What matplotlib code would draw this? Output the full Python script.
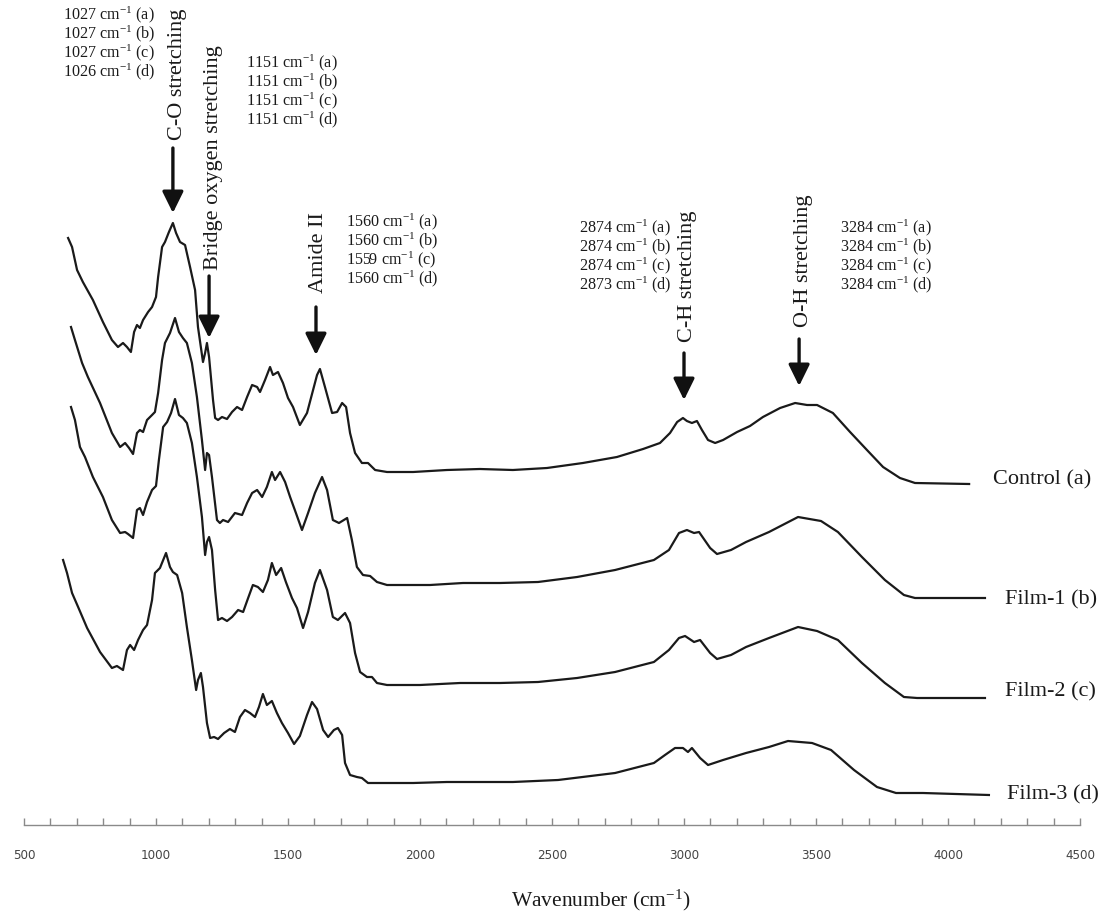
import matplotlib
matplotlib.use("Agg")
import matplotlib.pyplot as plt
from matplotlib.ticker import MultipleLocator

plt.rcParams['font.family'] = ['Liberation Serif', 'DejaVu Serif']
plt.rcParams['mathtext.fontset'] = 'custom'
plt.rcParams['mathtext.rm'] = 'Liberation Serif'
plt.rcParams['mathtext.it'] = 'Liberation Serif:italic'

# wavenumber (cm-1) / stacked intensity (a.u.)
control_x = [667, 682, 701, 723, 761, 799, 833, 856, 875, 890, 905, 917, 928, 939, 951, 970, 985, 1000,
             1008, 1023, 1034, 1049, 1064, 1076, 1091, 1110, 1129, 1148, 1159, 1178, 1186, 1193, 1201,
             1216, 1224, 1235, 1250, 1269, 1288, 1307, 1326, 1345, 1364, 1383, 1394, 1413, 1432, 1443,
             1462, 1481, 1500, 1519, 1545, 1572, 1595, 1610, 1621, 1640, 1667, 1686, 1705, 1720, 1735,
             1754, 1780, 1803, 1830, 1875, 1974, 2102, 2227, 2352, 2481, 2617, 2746, 2845, 2909, 2947,
             2974, 2996, 3011, 3030, 3049, 3068, 3091, 3118, 3148, 3201, 3250, 3299, 3364, 3421, 3466,
             3504, 3564, 3629, 3693, 3754, 3818, 3875, 4080]
control_y = [6.12, 6.03, 5.80, 5.68, 5.50, 5.28, 5.10, 5.03, 5.07, 5.03, 4.98, 5.18, 5.25, 5.22, 5.30, 5.38,
             5.43, 5.53, 5.73, 6.03, 6.08, 6.18, 6.27, 6.17, 6.08, 6.05, 5.83, 5.60, 5.23, 4.88, 4.97, 5.07,
             4.93, 4.50, 4.32, 4.30, 4.33, 4.31, 4.38, 4.43, 4.40, 4.53, 4.65, 4.63, 4.58, 4.70, 4.83, 4.75,
             4.78, 4.67, 4.52, 4.43, 4.25, 4.37, 4.60, 4.75, 4.81, 4.63, 4.37, 4.38, 4.47, 4.43, 4.17, 3.97,
             3.87, 3.87, 3.80, 3.78, 3.78, 3.80, 3.81, 3.80, 3.82, 3.87, 3.93, 4.01, 4.07, 4.17, 4.28, 4.32,
             4.29, 4.27, 4.29, 4.20, 4.10, 4.07, 4.10, 4.18, 4.24, 4.33, 4.42, 4.47, 4.45, 4.45, 4.37, 4.18,
             4.00, 3.83, 3.72, 3.67, 3.66]

film1_x = [678, 693, 720, 742, 788, 833, 864, 883, 898, 913, 928, 939, 951, 966, 985, 996, 1008, 1023,
           1034, 1053, 1072, 1087, 1102, 1117, 1136, 1155, 1174, 1186, 1193, 1201, 1212, 1231, 1242, 1254,
           1273, 1299, 1326, 1345, 1364, 1383, 1402, 1420, 1439, 1451, 1470, 1489, 1508, 1530, 1553, 1576,
           1602, 1629, 1648, 1670, 1693, 1724, 1742, 1761, 1784, 1811, 1837, 1875, 2038, 2163, 2303, 2447,
           2595, 2739, 2886, 2943, 2981, 3011, 3038, 3057, 3099, 3125, 3178, 3235, 3322, 3432, 3519, 3583,
           3674, 3761, 3833, 3875, 4140]
film1_y = [5.23, 5.10, 4.87, 4.73, 4.47, 4.17, 4.03, 4.07, 4.02, 3.96, 4.17, 4.20, 4.18, 4.30, 4.35, 4.38,
           4.57, 4.90, 5.07, 5.17, 5.32, 5.18, 5.12, 5.07, 4.87, 4.53, 4.10, 3.80, 3.97, 3.95, 3.73, 3.30,
           3.27, 3.30, 3.28, 3.37, 3.35, 3.47, 3.57, 3.60, 3.53, 3.63, 3.78, 3.70, 3.78, 3.68, 3.53, 3.37,
           3.20, 3.37, 3.57, 3.73, 3.60, 3.30, 3.27, 3.32, 3.10, 2.83, 2.75, 2.74, 2.68, 2.65, 2.65, 2.67,
           2.67, 2.68, 2.73, 2.80, 2.90, 3.00, 3.17, 3.20, 3.17, 3.18, 3.02, 2.96, 3.00, 3.08, 3.18, 3.33,
           3.29, 3.18, 2.93, 2.70, 2.55, 2.52, 2.52]

film2_x = [678, 693, 712, 731, 761, 799, 833, 864, 883, 894, 913, 928, 939, 951, 966, 985, 1000, 1011,
           1027, 1042, 1057, 1072, 1087, 1102, 1117, 1136, 1155, 1174, 1186, 1193, 1201, 1212, 1224, 1235,
           1250, 1269, 1288, 1311, 1330, 1349, 1367, 1386, 1405, 1424, 1439, 1455, 1474, 1492, 1515, 1534,
           1557, 1576, 1602, 1621, 1648, 1670, 1689, 1716, 1735, 1754, 1773, 1799, 1818, 1837, 1875, 2000,
           2152, 2303, 2447, 2595, 2739, 2886, 2943, 2981, 3004, 3038, 3061, 3099, 3125, 3178, 3235, 3322,
           3432, 3504, 3583, 3674, 3761, 3833, 3883, 4140]
film2_y = [4.43, 4.30, 4.03, 3.93, 3.73, 3.53, 3.30, 3.17, 3.18, 3.16, 3.12, 3.40, 3.42, 3.35, 3.48, 3.60,
           3.64, 3.90, 4.23, 4.28, 4.37, 4.51, 4.35, 4.32, 4.27, 4.07, 3.73, 3.33, 2.95, 3.08, 3.13, 3.00,
           2.60, 2.30, 2.32, 2.29, 2.33, 2.40, 2.38, 2.52, 2.65, 2.63, 2.58, 2.70, 2.87, 2.75, 2.82, 2.68,
           2.52, 2.42, 2.22, 2.38, 2.67, 2.80, 2.60, 2.33, 2.30, 2.37, 2.27, 1.97, 1.78, 1.73, 1.73, 1.67,
           1.65, 1.65, 1.67, 1.67, 1.68, 1.72, 1.78, 1.88, 2.00, 2.12, 2.14, 2.08, 2.10, 1.97, 1.91, 1.95,
           2.03, 2.12, 2.23, 2.19, 2.10, 1.87, 1.67, 1.53, 1.52, 1.52]

film3_x = [648, 663, 682, 705, 739, 788, 833, 852, 875, 890, 902, 917, 932, 951, 966, 985, 996, 1015,
           1038, 1053, 1064, 1080, 1099, 1117, 1136, 1152, 1159, 1170, 1178, 1193, 1205, 1220, 1235, 1258,
           1280, 1299, 1318, 1337, 1356, 1375, 1390, 1405, 1420, 1439, 1458, 1477, 1500, 1523, 1545, 1572,
           1591, 1610, 1633, 1652, 1674, 1689, 1705, 1716, 1735, 1761, 1780, 1803, 1849, 1974, 2102, 2352,
           2523, 2739, 2886, 2928, 2966, 2996, 3015, 3030, 3061, 3091, 3148, 3235, 3322, 3394, 3485, 3557,
           3644, 3731, 3803, 3905, 4155]
film3_y = [2.90, 2.77, 2.57, 2.43, 2.22, 1.98, 1.82, 1.84, 1.80, 2.00, 2.05, 2.00, 2.10, 2.20, 2.25, 2.50,
           2.77, 2.82, 2.97, 2.83, 2.78, 2.75, 2.57, 2.23, 1.90, 1.60, 1.70, 1.77, 1.63, 1.27, 1.12, 1.13,
           1.11, 1.17, 1.21, 1.18, 1.33, 1.40, 1.37, 1.33, 1.43, 1.56, 1.45, 1.49, 1.37, 1.27, 1.17, 1.06,
           1.14, 1.35, 1.48, 1.41, 1.20, 1.13, 1.20, 1.22, 1.15, 0.87, 0.75, 0.73, 0.72, 0.67, 0.67, 0.67,
           0.68, 0.68, 0.70, 0.77, 0.87, 0.95, 1.02, 1.02, 0.98, 1.02, 0.92, 0.85, 0.90, 0.97, 1.03, 1.09,
           1.07, 1.00, 0.80, 0.63, 0.57, 0.57, 0.55]

sample_names = ["Control (a)", "Film-1 (b)", "Film-2 (c)", "Film-3 (d)"]
sample_letters = ["a", "b", "c", "d"]

# band assignments: name, wavenumbers listed per sample
band_names = ["C-O stretching", "Bridge oxygen stretching", "Amide II", "C-H stretching", "O-H stretching"]
band_values = [[1027, 1027, 1027, 1026],
               [1151, 1151, 1151, 1151],
               [1560, 1560, 1559, 1560],
               [2874, 2874, 2874, 2873],
               [3284, 3284, 3284, 3284]]

series = [(control_x, control_y), (film1_x, film1_y), (film2_x, film2_y), (film3_x, film3_y)]

fig = plt.figure(figsize=(11, 9.22), dpi=100)
ax = fig.add_axes([24 / 1100, 97 / 922, 1056 / 1100, 825 / 922])
ax.set_xlim(500, 4500)
ax.set_ylim(0.25, 8.5)

for xs, ys in series:
    ax.plot(xs, ys, color="#1a1a1a", lw=1.6, solid_joinstyle="round")

# sample names at the right end of each trace
name_pos = [(4171, 3.70), (4216, 2.50), (4216, 1.58), (4224, 0.55)]
for name, (nx, ny) in zip(sample_names, name_pos):
    ax.text(nx, ny, name, fontsize=16, va="center", ha="left", color="#1a1a1a")

# arrows + rotated band names
arrow_pos = [(1064, 7.02, 6.37), (1201, 5.74, 5.12), (1606, 5.43, 4.95), (3000, 4.97, 4.50), (3436, 5.11, 4.64)]
label_pos = [(1080, 7.10), (1216, 5.80), (1614, 5.57), (3015, 5.08), (3451, 5.23)]
for name, (axx, y0, y1), (lx, ly) in zip(band_names, arrow_pos, label_pos):
    ax.annotate("", xy=(axx, y1), xytext=(axx, y0),
                arrowprops=dict(arrowstyle="-|>,head_length=0.65,head_width=0.32", lw=2.4,
                                color="#111111", shrinkA=0, shrinkB=0, mutation_scale=20))
    ax.text(lx, ly, name, rotation=90, fontsize=16, ha="center", va="bottom", color="#1a1a1a")

# peak position lists
list_pos = [(648, 8.35), (1341, 7.87), (1720, 6.28), (2602, 6.22), (3591, 6.22)]
for vals, (px, py) in zip(band_values, list_pos):
    for i, (v, s) in enumerate(zip(vals, sample_letters)):
        ax.text(px, py - 0.19 * i, f"{v} cm$^{{-1}}$ ({s})", fontsize=11.6, va="center", ha="left",
                color="#1a1a1a")

for side in ["left", "right", "top"]:
    ax.spines[side].set_visible(False)
ax.spines["bottom"].set_color("#8a8a8a")
ax.spines["bottom"].set_linewidth(1.0)
ax.set_yticks([])
ax.xaxis.set_major_locator(MultipleLocator(500))
ax.xaxis.set_minor_locator(MultipleLocator(100))
ax.tick_params(axis="x", which="both", direction="in", length=5, width=1, color="#8a8a8a",
               labelsize=9.5, labelcolor="#444444", pad=17)
for lab in ax.get_xticklabels():
    lab.set_fontfamily(["DejaVu Sans"])
    lab.set_fontstretch("condensed")

ax.set_xlabel("Wavenumber (cm$^{-1}$)", fontsize=15.5, color="#1a1a1a", va="center")
ax.xaxis.set_label_coords(0.546, -0.091)

fig.savefig("out.png", dpi=100)
